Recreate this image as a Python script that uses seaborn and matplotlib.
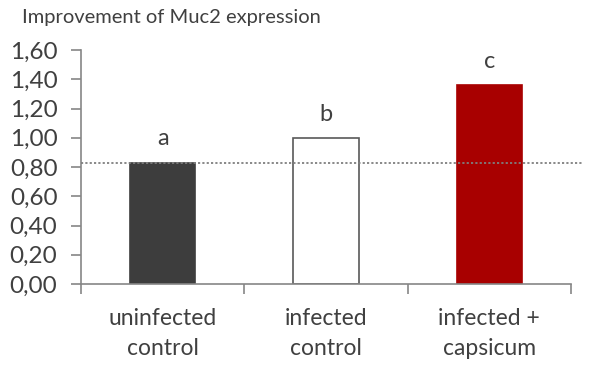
import seaborn as sns
import matplotlib.pyplot as plt
import pandas as pd

groups = ['uninfected\ncontrol', 'infected\ncontrol', 'infected +\ncapsicum']
muc2 = [0.83, 1.00, 1.36]
letters = ['a', 'b', 'c']
fills = ['#3d3d3d', '#ffffff', '#a80000']
edges = ['#3d3d3d', '#595959', '#a80000']
baseline = 0.83
yticks = [0.0, 0.2, 0.4, 0.6, 0.8, 1.0, 1.2, 1.4, 1.6]

sns.set_style('white')
plt.rcParams['font.family'] = ['Lato', 'DejaVu Sans']
TXT = '#404040'
AX = '#868686'

df = pd.DataFrame({'group': groups, 'muc2': muc2})

fig = plt.figure(figsize=(6, 3.87), dpi=100)
ax = fig.add_axes([81 / 600, 1 - 284 / 387, 490 / 600, 234 / 387])

sns.barplot(data=df, x='group', y='muc2', hue='group', palette=fills, saturation=1,
            width=0.4, legend=False, ax=ax, linewidth=1.2)
for patch, ec in zip(ax.patches, edges):
    patch.set_edgecolor(ec)

for i, (v, lab) in enumerate(zip(muc2, letters)):
    ax.text(i, v + 0.09, lab, ha='center', va='bottom', fontsize=17, color=TXT)

ax.axhline(baseline, xmin=0, xmax=1.022, color='#7f7f7f', linestyle=(0, (1.2, 1.2)),
           linewidth=1.3, clip_on=False, zorder=5)

ax.set_xlim(-0.5, 2.5)
ax.set_ylim(0, 1.6)
ax.set_yticks(yticks)
ax.set_yticklabels([f'{t:.2f}'.replace('.', ',') for t in yticks])
ax.set_xticks([-0.5, 0.5, 1.5, 2.5], minor=True)
ax.tick_params(axis='x', which='major', length=0, pad=17, labelsize=16.5, labelcolor=TXT)
ax.tick_params(axis='x', which='minor', length=7, width=1.2, color=AX, direction='out', bottom=True)
ax.tick_params(axis='y', length=7, width=1.2, color=AX, direction='out', left=True,
               pad=10, labelsize=17.5, labelcolor=TXT)
for lab in ax.get_xticklabels():
    lab.set_linespacing(1.55)

ax.set_xlabel('')
ax.set_ylabel('')
for s in ['top', 'right']:
    ax.spines[s].set_visible(False)
for s in ['left', 'bottom']:
    ax.spines[s].set_color(AX)
    ax.spines[s].set_linewidth(1.2)

fig.text(22 / 600, 1 - 18 / 387, 'Improvement of Muc2 expression', fontsize=14.5,
         color=TXT, va='center', ha='left')

fig.savefig('out.png', dpi=100)
